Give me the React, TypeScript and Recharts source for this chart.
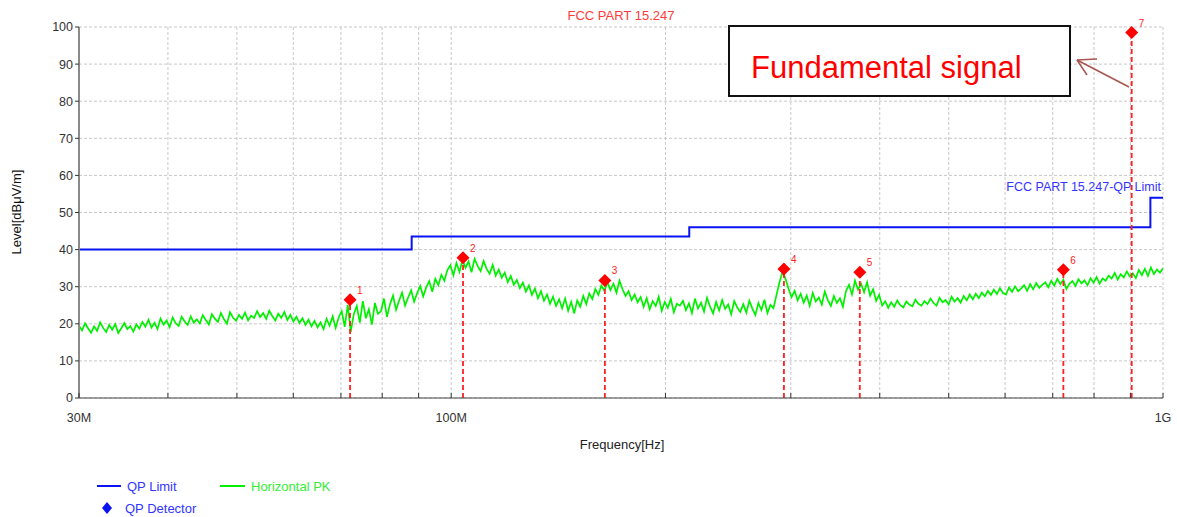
import React from 'react';
import { ComposedChart, Line, Scatter, XAxis, YAxis, CartesianGrid, ReferenceLine } from 'recharts';

const FREQ_START = 30;
const FREQ_STOP = 1000;

// Horizontal PK trace, swept log-evenly from 30M to 1G
const pkLevels = [
  19.5, 18.2, 20.1, 18.8, 17.6, 19.3, 18.1, 20.4, 18.9, 17.8, 19.7, 18.4, 19.9, 17.5, 18.8, 20.2, 18.6, 19.4, 17.9, 19.8,
  18.7, 20.5, 19.2, 21.1, 19.0, 20.3, 18.6, 21.4, 19.8, 20.9, 19.1, 21.7, 20.2, 19.4, 21.9, 20.6, 19.7, 22.0, 20.3, 21.2,
  20.1, 22.3, 21.0, 19.8, 22.6, 21.4, 20.5, 22.9, 21.2, 20.0, 23.1, 21.7, 20.8, 22.4, 21.3, 23.0, 20.9, 22.2, 21.6, 23.4,
  21.8, 22.9, 21.3, 23.5, 22.1, 20.9, 22.7, 21.6, 23.2, 21.0, 22.4, 20.6, 21.9, 20.2, 21.5, 19.7, 21.1, 19.3, 20.8, 19.0,
  20.4, 18.6, 21.3, 19.5, 22.0, 18.9, 21.7, 23.4, 19.2, 25.1, 17.8, 22.6, 24.8, 20.3, 26.1, 21.5, 23.9, 19.8, 25.6, 22.7,
  23.4, 26.8, 21.9, 25.3, 27.6, 23.8, 26.2, 28.4, 24.9, 27.1, 29.0, 26.0, 28.3, 30.2, 27.4, 29.8, 31.5, 28.6, 32.1, 30.4,
  33.2, 31.6, 34.5, 35.8, 33.1, 36.4, 34.0, 37.2, 35.1, 36.8, 33.9, 37.5, 35.6, 34.2, 36.9, 34.8, 33.5, 35.9, 33.0, 34.6,
  32.4, 33.8, 31.2, 32.9, 30.5, 31.8, 29.6, 31.1, 28.7, 30.3, 27.8, 29.5, 26.9, 28.8, 26.2, 27.9, 25.4, 27.3, 24.8, 26.6,
  24.2, 26.8, 23.5, 25.9, 22.8, 26.3, 24.6, 27.5, 25.3, 28.2, 26.7, 29.4, 27.8, 30.3, 28.9, 31.2, 29.1, 30.8, 28.4, 31.6,
  29.3, 27.5, 28.8, 26.4, 27.9, 25.8, 27.2, 24.6, 26.9, 23.9, 26.1, 24.8, 27.3, 23.5, 25.9, 24.3, 26.7, 23.1, 25.4, 24.9,
  26.2, 23.7, 25.5, 22.9, 26.8, 24.1, 25.7, 23.3, 27.0, 24.6, 22.8, 25.9, 23.6, 26.4, 24.0, 25.2, 22.6, 26.1, 24.4, 23.2,
  25.3, 23.0, 26.2, 24.1, 22.4, 25.6, 23.7, 26.5, 22.9, 25.1, 24.2, 27.8, 31.2, 34.0, 32.1, 29.4, 27.2, 28.9, 26.3, 28.1,
  25.7, 27.6, 24.9, 28.3, 26.0, 27.1, 25.2, 28.7, 26.4, 24.8, 27.5, 25.6, 26.9, 24.6, 28.8, 30.5, 27.9, 31.6, 29.2, 30.8,
  28.5, 31.2, 27.6, 29.3, 26.2, 27.8, 24.9, 26.1, 24.3, 25.8, 24.6, 26.3, 25.0, 24.4, 26.0, 25.2, 24.7, 26.5, 25.4, 24.9,
  26.1, 25.3, 26.8, 25.6, 24.9, 27.0, 25.8, 26.4, 25.2, 27.3, 26.0, 26.9, 25.7, 27.5, 26.3, 27.9, 26.6, 28.1, 26.9, 28.4,
  27.4, 28.9, 27.8, 29.2, 28.0, 29.6, 28.3, 27.9, 29.8, 28.6, 30.1, 28.8, 29.5, 30.4, 28.9, 30.7, 29.3, 31.0, 29.7, 30.5,
  31.2, 29.8, 31.6, 30.3, 32.1, 30.7, 31.9, 29.4, 30.8, 31.5, 30.2, 32.0, 30.9, 31.7, 30.4, 32.3, 31.1, 32.6, 30.8, 32.2,
  31.6, 33.0, 32.2, 33.7, 31.9, 33.4, 32.5, 34.1, 32.8, 33.6, 32.3, 34.5, 33.1, 34.8, 32.9, 35.2, 33.4, 34.6, 33.8, 35.0,
];

// QP limit (MHz / dBuV/m)
const limitFreqs = [30, 88, 216, 960, 1000];
const limitLevels = [40, 43.5, 46, 54, 54];

// QP detector markers
const markerFreqs = [72.1, 103.9, 164.4, 293.4, 375.0, 724.5, 903.7];
const markerLevels = [26.5, 37.8, 31.7, 34.8, 33.9, 34.6, 98.5];

const xTicks = [30, 40, 50, 60, 70, 80, 90, 100, 200, 300, 400, 500, 600, 700, 800, 900, 1000];
const xTickLabels: Record<number, string> = { 30: '30M', 100: '100M', 1000: '1G' };
const yTicks = [0, 10, 20, 30, 40, 50, 60, 70, 80, 90, 100];

const pkData = pkLevels.map((v, i) => ({
  f: FREQ_START * Math.pow(FREQ_STOP / FREQ_START, i / (pkLevels.length - 1)),
  v,
}));
const limitData = limitFreqs.map((f, i) => ({ f, v: limitLevels[i] }));
const markerData = markerFreqs.map((f, i) => ({ f, v: markerLevels[i], n: i + 1 }));

const FONT = '"Liberation Sans", Arial, sans-serif';

const XTick = ({ x, y, payload }: any) => {
  const label = xTickLabels[payload.value] || '';
  return (
    <g>
      <line x1={x} y1={y - 5} x2={x} y2={y} stroke="#333" strokeWidth={1} />
      {label && (
        <text x={x} y={y + 24} textAnchor="middle" fontSize={12.5} fill="#333" fontFamily={FONT}>
          {label}
        </text>
      )}
    </g>
  );
};

const MarkerShape = ({ cx, cy, payload }: any) => {
  const s = 6.5;
  return (
    <g>
      <polygon points={`${cx},${cy - s} ${cx + s},${cy} ${cx},${cy + s} ${cx - s},${cy}`} fill="#ff0000" />
      <text x={cx + 7} y={cy - 6} fontSize={10} fill="#ff2020" fontFamily={FONT}>
        {payload.n}
      </text>
    </g>
  );
};

export default function App() {
  return (
    <div style={{ position: 'absolute', left: 0, top: 0, width: 1177, height: 517, background: '#fff', fontFamily: FONT }}>
      <ComposedChart width={1177} height={517} margin={{ top: 27, right: 14, bottom: 89, left: 0 }}>
        <CartesianGrid strokeDasharray="3 2" stroke="#c8c8c8" />
        <XAxis
          type="number"
          dataKey="f"
          scale="log"
          domain={[FREQ_START, FREQ_STOP]}
          allowDataOverflow
          ticks={xTicks}
          interval={0}
          height={30}
          tickSize={0}
          tickMargin={0}
          tick={<XTick />}
          axisLine={{ stroke: '#444', strokeWidth: 1 }}
          tickLine={false}
        />
        <YAxis
          type="number"
          domain={[0, 100]}
          ticks={yTicks}
          width={79}
          interval={0}
          tickSize={4}
          axisLine={{ stroke: '#8a8a8a', strokeWidth: 2 }}
          tickLine={{ stroke: '#333' }}
          tick={{ fill: '#333', fontSize: 12.5, fontFamily: FONT }}
        />
        <Line
          data={pkData}
          dataKey="v"
          type="linear"
          stroke="#00f000"
          strokeWidth={1.7}
          dot={false}
          isAnimationActive={false}
        />
        <Line
          data={limitData}
          dataKey="v"
          type="stepAfter"
          stroke="#0a14f0"
          strokeWidth={2}
          dot={false}
          isAnimationActive={false}
        />
        {markerData.map((m) => (
          <ReferenceLine
            key={m.n}
            segment={[{ x: m.f, y: 0 }, { x: m.f, y: m.v }]}
            stroke="#ff2020"
            strokeWidth={1.8}
            strokeDasharray="5 3"
          />
        ))}
        <Scatter data={markerData} dataKey="v" shape={<MarkerShape />} isAnimationActive={false} />
      </ComposedChart>

      <svg
        width={1177}
        height={517}
        style={{ position: 'absolute', left: 0, top: 0, pointerEvents: 'none' }}
        fontFamily={FONT}
      >
        <text x={621} y={20} textAnchor="middle" fontSize={13} fill="#ff3b3b">FCC PART 15.247</text>
        <text x={1161} y={191} textAnchor="end" fontSize={12.5} fill="#3434ff">FCC PART 15.247-QP Limit</text>

        <rect x={729} y={26} width={341} height={70} fill="#fff" stroke="#111" strokeWidth={2} />
        <text x={751} y={78} fontSize={31} fill="#ff0000">Fundamental signal</text>
        <g stroke="#a85450" strokeWidth={1.5} fill="none">
          <line x1={1129} y1={87} x2={1077} y2={60} />
          <line x1={1077} y1={60} x2={1097} y2={59} />
          <line x1={1077} y1={60} x2={1087} y2={75} />
        </g>

        <text x={21} y={212} textAnchor="middle" fontSize={13} fill="#111" transform="rotate(-90 21 212)">
          Level[dBμV/m]
        </text>
        <text x={622} y={449} textAnchor="middle" fontSize={13} fill="#222">Frequency[Hz]</text>

        <line x1={97} y1={486} x2={121} y2={486} stroke="#0a14f0" strokeWidth={2} />
        <text x={127} y={491} fontSize={13} fill="#3434ff">QP Limit</text>
        <line x1={220} y1={486} x2={245} y2={486} stroke="#00f000" strokeWidth={2} />
        <text x={251} y={491} fontSize={13} fill="#33ee33">Horizontal PK</text>
        <polygon points="107,502 112,508 107,514 102,508" fill="#0a14f0" />
        <text x={125} y={513} fontSize={13} fill="#3434ff">QP Detector</text>
      </svg>
    </div>
  );
}
